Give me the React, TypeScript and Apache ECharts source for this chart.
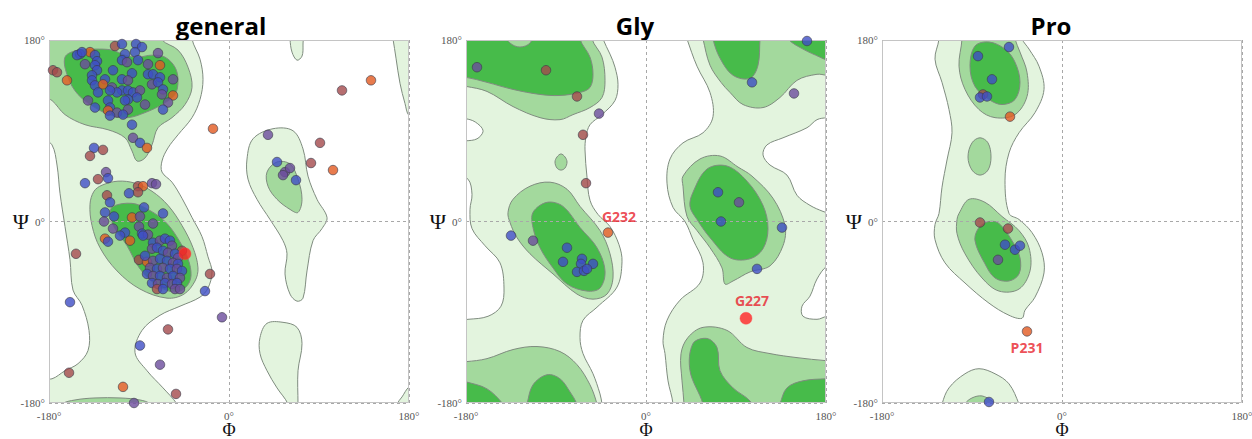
import React, { useEffect, useRef } from "react";
import * as echarts from "echarts";

// ---------- titles ----------
const panelTitles = ["general", "Gly", "Pro"];

// ---------- point categories: 0 blue, 1 purple, 2 brown-red, 3 orange, 4 flagged red ----------
const PALETTE = ["#3f4ec6", "#6c4c9c", "#a44a4c", "#e25a20", "#ff2424"];

// ---------- general: contour regions (phi, psi) ----------
const generalLight1 = [[-189,191],[-35,191],[-37,181],[-29,161],[-26,141],[-29,121],[-37,103],[-51,86],[-61,73],[-67,60],[-67,49],[-57,39],[-47,23],[-37,4],[-27,-15],[-21,-35],[-17,-50],[-21,-66],[-29,-75],[-49,-84],[-69,-93],[-87,-108],[-94,-130],[-82,-148],[-66,-165],[-52,-181],[-49,-190],[-189,-190],[-189,-156],[-177,-156],[-164,-148],[-151,-141],[-141,-128],[-140,-108],[-147,-83],[-156,-68],[-159,-38],[-164,-5],[-169,28],[-172,56],[-177,76],[-189,86]];
const generalLight2 = [[61,190],[61,181],[63,168],[68,160],[73,164],[74,175],[73,190]];
const generalLight3 = [[31,-115],[38,-101],[54,-100],[68,-105],[73,-121],[69,-148],[69,-181],[69,-190],[59,-190],[59,-181],[48,-165],[38,-148],[31,-131]];
const generalLight4 = [[18,62],[24,82],[44,92],[64,90],[74,72],[79,45],[88,22],[98,4],[93,-7],[84,-19],[78,-49],[74,-76],[68,-79],[61,-72],[56,-52],[58,-32],[54,-19],[41,2],[28,22],[19,42]];
const generalLight5 = [[162,191],[164,181],[167,162],[171,137],[176,117],[180,105],[189,102],[189,191]];
const generalLight6 = [[166,-190],[168,-181],[173,-174],[180,-164],[189,-160],[189,-190]];
const generalMid1 = [[-189,191],[-69,191],[-67,180],[-51,170],[-41,153],[-37,133],[-44,116],[-57,103],[-71,93],[-77,76],[-84,63],[-92,60],[-97,70],[-104,83],[-121,91],[-144,96],[-164,106],[-177,120],[-189,126]];
const generalMid2 = [[-127,36],[-111,40],[-94,38],[-77,30],[-61,16],[-47,-4],[-36,-26],[-31,-46],[-34,-59],[-45,-72],[-62,-76],[-89,-67],[-112,-49],[-129,-26],[-137,-4],[-139,17],[-135,30]];
const generalMid3 = [[-171,-190],[-167,-181],[-154,-177],[-134,-175],[-109,-175],[-89,-177],[-79,-181],[-77,-190]];
const generalMid4 = [[38,49],[48,59],[61,57],[69,42],[73,22],[69,9],[61,12],[48,22],[39,35]];
const generalDark1 = [[-164,163],[-161,143],[-151,126],[-134,113],[-117,105],[-101,103],[-84,108],[-67,116],[-54,126],[-51,140],[-54,153],[-64,163],[-77,165],[-91,163],[-104,165],[-117,170],[-134,171],[-151,170]];
const generalDark2 = [[-116,15],[-97,18],[-81,12],[-64,0],[-51,-17],[-41,-37],[-38,-54],[-43,-65],[-54,-70],[-71,-64],[-89,-47],[-102,-24],[-114,-7],[-119,7]];

// ---------- Gly: contour regions ----------
const glyBase = [[-190,-190],[190,-190],[190,190],[-190,190]];
const glyWhite1 = [[-45,191],[-43,181],[-36,166],[-31,153],[-28,136],[-31,120],[-44,106],[-56,96],[-60,84],[-61,71],[-59,44],[-56,21],[-48,7],[-36,-5],[-27,-23],[-24,-40],[-29,-65],[-49,-85],[-63,-98],[-66,-115],[-63,-131],[-53,-151],[-46,-171],[-44,-181],[-43,-190],[25,-190],[27,-181],[22,-158],[19,-131],[17,-118],[21,-98],[34,-78],[54,-61],[57,-41],[47,-18],[39,0],[27,14],[21,38],[24,62],[37,78],[57,88],[67,104],[64,128],[51,154],[41,181],[38,191]];
const glyWhite2 = [[-190,101],[-176,101],[-166,95],[-163,89],[-169,82],[-180,80],[-190,80]];
const glyWhite3 = [[-190,44],[-178,42],[-174,27],[-176,12],[-174,-7],[-161,-24],[-146,-41],[-142,-66],[-145,-84],[-158,-94],[-178,-97],[-190,-97]];
const glyWhite4 = [[190,104],[181,103],[171,101],[161,93],[137,83],[121,76],[117,66],[124,56],[141,46],[151,26],[164,16],[177,10],[181,9],[190,9]];
const glyWhite5 = [[190,-42],[181,-44],[171,-57],[164,-74],[156,-84],[157,-94],[171,-97],[181,-94],[190,-94]];
const glyMid1 = [[-190,191],[-52,191],[-54,181],[-44,163],[-41,140],[-44,123],[-56,113],[-73,106],[-86,101],[-106,103],[-133,114],[-159,129],[-180,134],[-190,135]];
const glyMid2 = [[-138,9],[-133,22],[-116,35],[-96,39],[-79,32],[-66,15],[-46,-9],[-36,-32],[-33,-56],[-39,-72],[-53,-77],[-69,-72],[-93,-52],[-116,-32],[-129,-16],[-136,-1]];
const glyMid3 = [[37,35],[37,45],[54,62],[74,65],[92,54],[106,45],[127,23],[139,-4],[137,-24],[124,-44],[104,-50],[87,-59],[79,-62],[76,-46],[64,-26],[51,-9],[41,5]];
const glyMid4 = [[55,191],[57,181],[64,155],[75,138],[84,128],[97,116],[117,113],[134,123],[151,140],[171,146],[181,145],[190,145],[190,191]];
const glyMid5 = [[-190,-139],[-180,-139],[-159,-136],[-133,-127],[-109,-124],[-86,-129],[-69,-142],[-56,-162],[-49,-181],[-48,-190],[-190,-190]];
const glyMid6 = [[37,-190],[38,-181],[36,-158],[35,-131],[42,-115],[57,-105],[81,-108],[101,-125],[124,-131],[151,-135],[180,-138],[190,-138],[190,-190]];
const glyMidDot = [[-85,67],[-81,64],[-79,59],[-81,53],[-85,51],[-89,53],[-91,59],[-89,64]];
const glyMidNotch = [[-141,186],[-136,177],[-126,173],[-116,177],[-114,186]];
const glyDark1 = [[-190,191],[-64,191],[-66,181],[-56,163],[-53,146],[-56,133],[-66,128],[-86,125],[-106,126],[-133,131],[-159,138],[-180,143],[-190,143]];
const glyDark2 = [[-113,9],[-99,19],[-83,15],[-66,-6],[-49,-26],[-41,-49],[-46,-66],[-59,-69],[-79,-62],[-93,-46],[-106,-26],[-113,-6]];
const glyDark3 = [[47,29],[61,52],[81,55],[101,40],[117,16],[122,-7],[117,-27],[104,-37],[84,-36],[64,-16],[51,2],[44,15]];
const glyDark4 = [[67,191],[67,181],[74,162],[87,145],[104,142],[112,155],[114,181],[115,191]];
const glyDark5 = [[139,191],[142,181],[157,171],[174,163],[181,160],[190,158],[190,191]];
const glyDark6 = [[-190,-157],[-180,-159],[-159,-166],[-143,-181],[-139,-190],[-190,-190]];
const glyDark7 = [[-121,-190],[-119,-181],[-113,-162],[-99,-152],[-86,-156],[-76,-169],[-69,-181],[-67,-190]];
const glyDark8 = [[56,-190],[57,-181],[44,-148],[47,-121],[61,-116],[71,-125],[74,-148],[87,-165],[104,-178],[109,-190]];
const glyDark9 = [[132,-190],[134,-181],[141,-165],[157,-158],[180,-156],[190,-156],[190,-190]];

// ---------- Pro: contour regions ----------
const proLight1 = [[-124,191],[-123,181],[-127,161],[-120,138],[-113,111],[-110,88],[-115,61],[-120,34],[-123,8],[-127,-3],[-127,-18],[-117,-41],[-97,-61],[-73,-81],[-53,-93],[-40,-96],[-37,-88],[-27,-75],[-18,-51],[-20,-31],[-30,-11],[-43,2],[-53,8],[-57,41],[-53,68],[-43,88],[-27,108],[-18,131],[-23,154],[-33,171],[-40,181],[-42,191]];
const proLight2 = [[-121,-190],[-120,-181],[-113,-165],[-97,-151],[-83,-146],[-67,-151],[-53,-161],[-43,-181],[-41,-190]];
const proMid1 = [[-101,191],[-100,181],[-103,154],[-97,131],[-83,111],[-67,103],[-47,106],[-35,124],[-35,148],[-42,168],[-47,181],[-48,191]];
const proMidDot = [[-82,83],[-74,78],[-71,64],[-74,51],[-82,46],[-90,51],[-94,64],[-90,78]];
const proMid2 = [[-105,2],[-103,8],[-93,22],[-77,19],[-60,5],[-43,-9],[-33,-26],[-32,-49],[-43,-67],[-63,-69],[-80,-56],[-97,-32],[-105,-12]];
const proMid3 = [[-98,-190],[-97,-181],[-90,-175],[-80,-173],[-70,-178],[-67,-181],[-66,-190]];
const proDark1 = [[-87,174],[-92,154],[-87,134],[-73,121],[-60,116],[-47,121],[-42,138],[-47,158],[-57,171],[-73,178]];
const proDark2 = [[-83,-6],[-73,0],[-63,-2],[-50,-19],[-42,-36],[-43,-52],[-53,-59],[-67,-56],[-77,-42],[-87,-19]];

// ---------- residues [phi, psi, category] ----------
const generalPoints = [
  [-114,174,2],[-107,176,0],[-93,176,0],[-87,173,0],[-139,168,3],[-149,166,0],[-152,165,0],[-134,165,0],[-104,166,0],[-71,167,1],
  [-94,168,0],[-147,168,0],[-132,159,0],
  [-176,150,2],[-172,148,2],[-162,140,3],[-144,156,1],[-134,155,0],[-132,150,0],[-107,160,0],[-102,158,1],[-91,160,0],[-81,156,1],[-69,155,3],
  [-116,150,0],[-97,147,0],[-81,146,0],[-76,146,0],[-69,143,0],[-137,145,0],[-137,140,0],[-124,141,0],[-56,141,1],[-134,135,0],[-126,136,3],
  [-117,133,1],[-107,141,0],[-101,140,1],[-77,136,1],[-71,138,0],[-66,131,0],[-107,130,0],[-101,130,0],[-96,128,0],[-89,130,1],[-112,128,0],
  [-119,130,0],[-131,128,0],[-92,123,0],[-101,121,0],[-67,126,1],[-56,125,3],[-141,120,1],[-121,120,0],[-104,120,0],[-84,116,1],[-61,118,1],
  [-134,113,0],[-119,113,0],[-101,111,1],[-121,110,3],[-112,108,1],[-106,106,0],[-119,105,0],[-66,111,0],[-97,96,0],[-16,92,3],[-96,83,1],
  [-89,78,0],[-82,73,3],[-135,73,0],[-126,71,2],[-139,65,2],
  [113,130,2],[142,140,3],[39,86,1],[91,78,2],[48,59,0],[56,49,1],[61,53,1],[54,46,1],[67,41,0],[82,58,2],[104,51,3],
  [-123,49,1],[-121,43,0],[-131,42,2],[-144,38,0],[-91,35,2],[-86,35,3],[-91,29,2],[-77,38,1],[-73,37,1],[-100,28,0],[-122,26,2],[-119,19,0],
  [-85,14,0],[-66,8,0],[-124,9,0],[-115,5,0],[-97,4,3],[-89,5,1],[-125,0,1],[-76,-2,1],[-90,-5,1],[-116,-7,1],[-87,-12,0],[-81,-13,1],
  [-104,-11,0],[-109,-14,0],[-99,-19,3],[-124,-17,3],[-121,-20,0],[-153,-32,2],[-90,-38,2],[-82,-40,3],[-19,-52,2],[-24,-69,0],
  [-86,-14,0],[-76,-21,0],[-69,-19,1],[-64,-17,0],[-59,-19,0],[-57,-24,1],[-47,-29,2],[-84,-34,0],[-77,-27,1],[-72,-26,0],[-66,-29,0],
  [-61,-31,1],[-54,-32,0],[-51,-36,1],[-76,-39,1],[-69,-37,0],[-62,-39,0],[-56,-41,1],[-51,-42,0],[-79,-46,1],[-72,-47,0],[-66,-46,1],
  [-59,-47,0],[-52,-47,1],[-47,-49,0],[-82,-52,0],[-76,-54,1],[-69,-54,0],[-62,-56,1],[-56,-54,0],[-49,-56,1],[-77,-61,0],[-71,-62,1],
  [-64,-61,0],[-57,-62,1],[-52,-61,0],[-72,-67,2],[-66,-67,0],[-54,-67,1],[-49,-67,1],
  [-159,-80,0],[-7,-95,1],[-61,-107,2],[-89,-123,0],[-69,-142,1],[-160,-150,2],[-106,-164,3],[-53,-171,2],[-95,-180,1],
];
const glyPoints = [
  [-169,153,1],[-100,150,2],[-69,124,2],[-47,107,1],[-63,86,2],[-60,38,2],[161,179,0],[106,138,0],[148,127,1],[72,29,0],[93,19,1],[75,0,0],
  [-135,-14,0],[-113,-19,1],[-79,-26,0],[-83,-40,0],[-64,-37,0],[-65,-42,0],[-53,-42,0],[-69,-50,0],[-62,-49,0],[-59,-47,0],[136,-6,0],[111,-47,0],
];
const proPoints = [
  [-53,173,0],[-84,164,0],[-70,141,0],[-79,126,2],[-82,123,0],[-75,124,0],[-52,104,3],[-82,-1,2],[-54,-7,2],[-57,-23,0],[-47,-28,0],[-42,-24,0],
  [-64,-38,1],[-73,-179,0],
];

// flagged residues [label, phi, psi, category]
const generalFlagged = [["", -44, -32, 4]];
const glyFlagged = [["G232", -38, -11, 3], ["G227", 100, -96, 4]];
const proFlagged = [["P231", -35, -109, 3]];

const generalRegions = [
  ["L", generalLight1], ["L", generalLight2], ["L", generalLight3], ["L", generalLight4], ["L", generalLight5], ["L", generalLight6],
  ["M", generalMid1], ["M", generalMid2], ["M", generalMid3], ["M", generalMid4],
  ["D", generalDark1], ["D", generalDark2],
];
const glyRegions = [
  ["B", glyBase],
  ["W", glyWhite1], ["W", glyWhite2], ["W", glyWhite3], ["W", glyWhite4], ["W", glyWhite5],
  ["M", glyMid1], ["M", glyMid2], ["M", glyMid3], ["M", glyMid4], ["M", glyMid5], ["M", glyMid6], ["M", glyMidDot],
  ["D", glyDark1], ["D", glyDark2], ["D", glyDark3], ["D", glyDark4], ["D", glyDark5], ["D", glyDark6], ["D", glyDark7], ["D", glyDark8], ["D", glyDark9],
  ["M", glyMidNotch],
];
const proRegions = [
  ["L", proLight1], ["L", proLight2],
  ["M", proMid1], ["M", proMidDot], ["M", proMid2], ["M", proMid3],
  ["D", proDark1], ["D", proDark2],
];

const REGION_FILL: Record<string, string> = { B: "#e3f4de", L: "#e3f4de", W: "#ffffff", M: "#a3d99d", D: "#47bb4a" };
const LABEL_PLACE: Record<string, any> = {
  G232: { position: "top", offset: [11, 1] },
  G227: { position: "top", offset: [6, 0] },
  P231: { position: "bottom", offset: [0, -1] },
};

const GRIDS = [
  { left: 49, top: 40, width: 360, height: 363 },
  { left: 466, top: 40, width: 360, height: 363 },
  { left: 882, top: 40, width: 360, height: 363 },
];
const TITLE_X = [221, 635, 1051];

function buildOption() {
  const panels = [
    { regions: generalRegions, points: generalPoints, flagged: generalFlagged },
    { regions: glyRegions, points: glyPoints, flagged: glyFlagged },
    { regions: proRegions, points: proPoints, flagged: proFlagged },
  ];
  const serif = "'Liberation Serif', 'DejaVu Serif', serif";
  const xAxis: any[] = [];
  const yAxis: any[] = [];
  const series: any[] = [];
  panels.forEach((p, i) => {
    xAxis.push({
      gridIndex: i, type: "value", min: -180, max: 180, interval: 180, z: 3,
      axisLine: { show: false }, axisTick: { show: false },
      splitLine: { show: true, lineStyle: { type: [3, 3], color: "#a8a8a8", width: 1 } },
      axisLabel: { formatter: (v: number) => v + "°", color: "#555", fontFamily: serif, fontSize: 11, lineHeight: 11, margin: 7 },
      name: "Φ", nameLocation: "middle", nameGap: 19, nameMoveOverlap: false,
      nameTextStyle: { fontFamily: serif, fontSize: 18, color: "#111", lineHeight: 16 },
    });
    yAxis.push({
      gridIndex: i, type: "value", min: -180, max: 180, interval: 180, z: 3,
      axisLine: { show: false }, axisTick: { show: false },
      splitLine: { show: true, lineStyle: { type: [3, 3], color: "#a8a8a8", width: 1 } },
      axisLabel: { formatter: (v: number) => v + "°", color: "#555", fontFamily: serif, fontSize: 11, margin: 4 },
      name: "Ψ", nameLocation: "middle", nameRotate: 0, nameGap: 20, nameMoveOverlap: false,
      nameTextStyle: { fontFamily: serif, fontSize: 22, color: "#111" },
    });
    const regions = p.regions;
    series.push({
      type: "custom", xAxisIndex: i, yAxisIndex: i, z: 1, silent: true,
      data: regions.map(() => [0, 0]),
      renderItem: (params: any, api: any) => {
        const [kind, pts] = regions[params.dataIndex] as [string, number[][]];
        const cs = params.coordSys;
        return {
          type: "polygon",
          shape: { points: pts.map((q) => api.coord(q)), smooth: kind === "B" ? 0 : 0.35 },
          style: {
            fill: REGION_FILL[kind],
            stroke: kind === "B" ? "none" : "#7f8c7f",
            lineWidth: 1,
          },
          clipPath: { type: "rect", shape: { x: cs.x, y: cs.y, width: cs.width, height: cs.height } },
        };
      },
    });
    series.push({
      type: "custom", xAxisIndex: i, yAxisIndex: i, z: 3, silent: true,
      data: [[0, 0]],
      renderItem: (params: any) => {
        const cs = params.coordSys;
        return {
          type: "rect",
          shape: { x: cs.x + 0.5, y: cs.y + 0.5, width: cs.width - 1, height: cs.height - 1 },
          style: { fill: "none", stroke: "#c4c4c4", lineWidth: 1 },
        };
      },
    });
    series.push({
      type: "scatter", xAxisIndex: i, yAxisIndex: i, z: 5, symbolSize: 9.5, silent: true,
      itemStyle: { borderColor: "#3a3a48", borderWidth: 0.8 },
      data: p.points.map(([x, y, c]) => ({ value: [x, y], itemStyle: { color: PALETTE[c] } })),
    });
    series.push({
      type: "scatter", xAxisIndex: i, yAxisIndex: i, z: 6, silent: true,
      data: p.flagged.map(([name, x, y, c]: any) => ({
        name,
        value: [x, y],
        symbolSize: c === 4 ? 12 : 9.5,
        itemStyle: c === 4
          ? { color: PALETTE[4], borderColor: "#ff4a4a", borderWidth: 0.5 }
          : { color: PALETTE[c], borderColor: "#3a3a48", borderWidth: 0.8 },
        label: name
          ? {
              show: true, formatter: name, color: "#e8212b", fontWeight: "bold",
              fontFamily: "'Open Sans', 'Noto Sans', sans-serif", fontSize: 14,
              ...LABEL_PLACE[name],
            }
          : { show: false },
      })),
    });
  });

  return {
    animation: false,
    backgroundColor: "#ffffff",
    grid: GRIDS.map((g) => ({ ...g, show: false, containLabel: false, outerBoundsMode: "none" })),
    xAxis,
    yAxis,
    series,
    graphic: panelTitles.map((t, i) => ({
      type: "text",
      x: TITLE_X[i],
      y: 25,
      style: {
        text: t,
        fill: "#000",
        font: "bold 24px 'Open Sans', 'Noto Sans', sans-serif",
        textAlign: "center",
        textVerticalAlign: "middle",
        align: "center",
        verticalAlign: "middle",
      },
    })),
  };
}

export default function App() {
  const ref = useRef<HTMLDivElement>(null);
  useEffect(() => {
    document.body.style.margin = "0";
    const chart = echarts.init(ref.current as HTMLDivElement, null, { renderer: "svg" });
    chart.setOption(buildOption() as any);
    return () => chart.dispose();
  }, []);
  return <div ref={ref} style={{ width: 1252, height: 439 }} />;
}
